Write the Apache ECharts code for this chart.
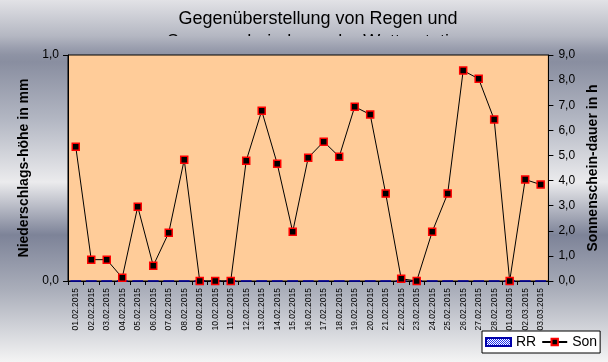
<!DOCTYPE html>
<html>
<head>
<meta charset="utf-8">
<script src="https://cdn.jsdelivr.net/npm/echarts@6/dist/echarts.min.js"></script>
<style>html,body{margin:0;padding:0;}#c{width:608px;height:362px;}</style>
</head>
<body>
<div id="c"></div>
<script>
var categories = ['01.02.2015','02.02.2015','03.02.2015','04.02.2015','05.02.2015','06.02.2015','07.02.2015','08.02.2015','09.02.2015','10.02.2015','11.02.2015','12.02.2015','13.02.2015','14.02.2015','15.02.2015','16.02.2015','17.02.2015','18.02.2015','19.02.2015','20.02.2015','21.02.2015','22.02.2015','23.02.2015','24.02.2015','25.02.2015','26.02.2015','27.02.2015','28.02.2015','01.03.2015','02.03.2015','03.03.2015'];
var rr = [0,0,0,0,0,0,0,0,0,0,0,0,0,0,0,0,0,0,0,0,0,0,0,0,0,0,0,0,0,0,0];
var son = [5.35,0.85,0.85,0.13,2.96,0.61,1.92,4.83,0,0,0,4.79,6.78,4.67,1.96,4.91,5.55,4.95,6.94,6.63,3.48,0.09,0,1.96,3.48,8.38,8.05,6.43,0,4.04,3.84];
var titleText = 'Gegenüberstellung von Regen und\nSonnenscheindauer der Wetterstation';
var leftName = 'Niederschlags-höhe in mm';
var rightName = 'Sonnenschein-dauer in h';

var pc = document.createElement('canvas');
pc.width = 2; pc.height = 2;
var ctx = pc.getContext('2d');
ctx.fillStyle = '#ffffff'; ctx.fillRect(0,0,2,2);
ctx.fillStyle = '#2233ee'; ctx.fillRect(0,0,1,1); ctx.fillRect(1,1,1,1);

function fmt(v){ return v.toFixed(1).replace('.', ','); }
function H(y){ return y/362; }

var chart = echarts.init(document.getElementById('c'), null, {renderer:'canvas'});
chart.setOption({
  animation: false,
  backgroundColor: new echarts.graphic.LinearGradient(0,0,0,1,[
    {offset:0, color:'#e2e2e6'},
    {offset:H(36), color:'#b4b7c2'},
    {offset:H(48), color:'#9a9eae'},
    {offset:H(55), color:'#8e93a4'},
    {offset:H(62), color:'#898ea0'},
    {offset:H(120), color:'#b3b7c3'},
    {offset:H(182), color:'#ebebed'},
    {offset:H(235), color:'#7d8398'},
    {offset:H(290), color:'#aaaeba'},
    {offset:1, color:'#f4f4f4'}
  ]),
  title: {
    text: titleText,
    left: 313, textAlign: 'center',
    top: 3,
    textStyle: {fontFamily:'Liberation Sans', fontSize:18, fontWeight:'normal', color:'#000', lineHeight:23}
  },
  graphic: [{
    type:'rect', z:100, left:0, top:36,
    shape:{width:608, height:12},
    style:{fill: new echarts.graphic.LinearGradient(0,0,0,1,[{offset:0,color:'#b4b7c2'},{offset:1,color:'#9a9eae'}])}
  }],
  legend: {
    left: 482, top: 331, width: 124,
    padding: [4,3,4,3],
    backgroundColor:'#ffffff', borderColor:'#000', borderWidth:1,
    itemWidth: 25, itemHeight: 8, itemGap: 5,
    textStyle: {fontFamily:'Liberation Sans', fontSize:14, color:'#000'},
    data: [{name:'RR', icon:'rect'}, {name:'Son'}]
  },
  grid: {left:68, right:56, top:55, bottom:81, show:true, backgroundColor:'#ffcc99', borderColor:'#000', borderWidth:1},
  xAxis: {
    type:'category', data: categories, boundaryGap:true,
    axisLine:{lineStyle:{color:'#000', width:1}},
    axisTick:{show:true, interval:0, length:4, lineStyle:{color:'#000'}},
    axisLabel:{interval:0, rotate:90, fontFamily:'Liberation Sans', fontSize:8.5, color:'#000', margin:7}
  },
  yAxis: [{
    type:'value', min:0, max:1, interval:1, position:'left',
    name: leftName, nameLocation:'middle', nameGap:29, nameRotate:90,
    nameTextStyle:{fontFamily:'Liberation Sans', fontSize:14, fontWeight:'bold', color:'#000'},
    axisLine:{show:true, lineStyle:{color:'#000'}},
    axisTick:{show:true, length:5, lineStyle:{color:'#000'}},
    axisLabel:{formatter:fmt, fontFamily:'Liberation Sans', fontSize:12, color:'#000', margin:9},
    splitLine:{show:false}
  },{
    type:'value', min:0, max:9, interval:1, position:'right',
    name: rightName, nameLocation:'middle', nameGap:26, nameRotate:90,
    nameTextStyle:{fontFamily:'Liberation Sans', fontSize:14, fontWeight:'bold', color:'#000'},
    axisLine:{show:true, lineStyle:{color:'#000'}},
    axisTick:{show:true, length:5, lineStyle:{color:'#000'}},
    axisLabel:{formatter:fmt, fontFamily:'Liberation Sans', fontSize:12, color:'#000', margin:10},
    splitLine:{show:false}
  }],
  series: [{
    name:'RR', type:'bar', yAxisIndex:0, data: rr,
    itemStyle:{color:{image:pc, repeat:'repeat'}, borderColor:'#0000aa', borderWidth:1}
  },{
    name:'Son', type:'line', yAxisIndex:1, data: son,
    symbol:'rect', symbolSize:7, showAllSymbol:true,
    lineStyle:{color:'#000', width:1},
    itemStyle:{color:'#000', borderColor:'#ff0000', borderWidth:1.5}
  }]
});
</script>
</body>
</html>
